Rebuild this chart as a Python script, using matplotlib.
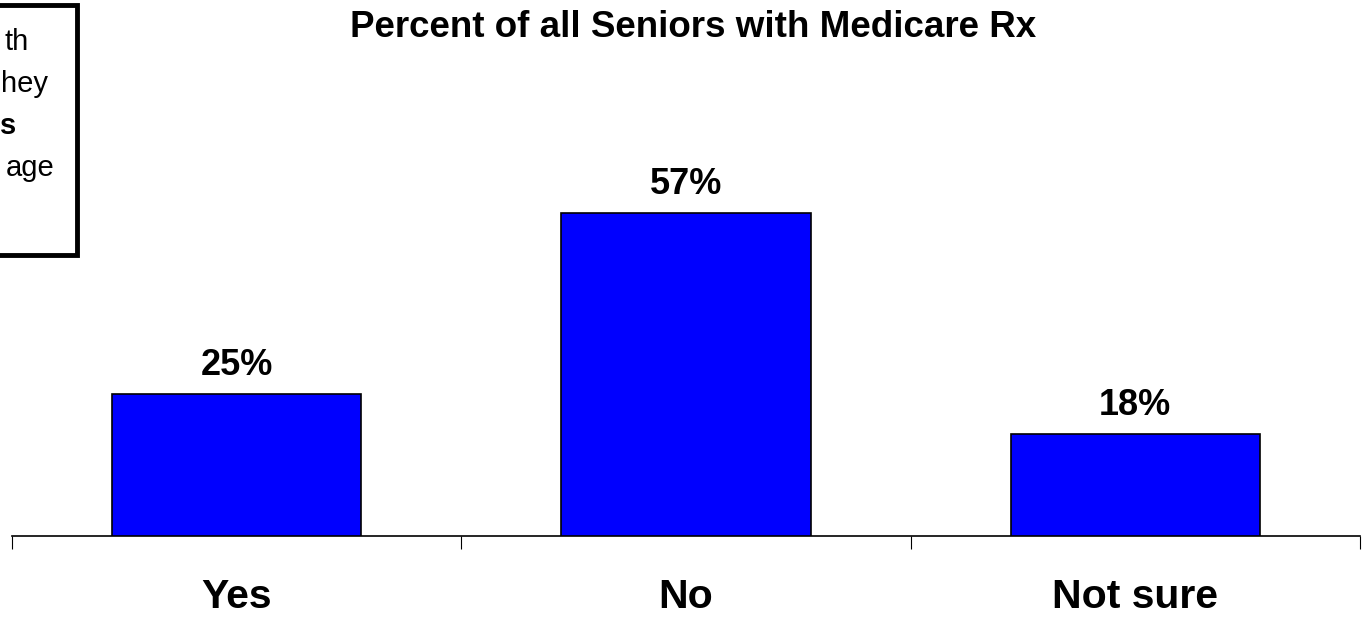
import matplotlib.pyplot as plt
from matplotlib.patches import Rectangle

categories = ["Yes", "No", "Not sure"]
values = [25, 57, 18]
value_labels = ["25%", "57%", "18%"]
note_lines = ["th", "hey", "s", "age"]

plt.rcParams['font.family'] = ['Liberation Sans', 'DejaVu Sans']

W, H = 1363, 620
fig = plt.figure(figsize=(W / 100, H / 100), dpi=100)
# axes: baseline at y=536 px, 5.667 px per percent
ax = fig.add_axes([12 / W, (H - 536) / H, 1348 / W, 80 * 5.667 / H])

x = range(len(categories))
ax.bar(x, values, width=0.555, color='#0000ff', edgecolor='black', linewidth=1.2, zorder=3)
for xi, v, lab in zip(x, values, value_labels):
    ax.annotate(lab, (xi, v), xytext=(0, 14), textcoords='offset points',
                ha='center', va='baseline', fontsize=26, fontweight='bold')

ax.set_xlim(-0.5, 2.5)
ax.set_ylim(0, 80)
ax.set_xticks([-0.5, 0.5, 1.5, 2.5])
ax.set_xticklabels([])
ax.tick_params(axis='x', direction='out', length=9.5, width=0.8, color='black')
ax.set_yticks([])
for s in ['top', 'right', 'left']:
    ax.spines[s].set_visible(False)
ax.spines['bottom'].set_linewidth(1.2)
for xi, c in zip(x, categories):
    ax.annotate(c, (xi, 0), xytext=(0, -52), textcoords='offset points',
                ha='center', va='baseline', fontsize=29.5, fontweight='bold')

fig.text(693 / W, 1 - 37 / H, "Percent of all Seniors with Medicare Rx",
         ha='center', va='baseline', fontsize=26.5, fontweight='bold')

# note box, cut off at left edge
fig.patches.append(Rectangle((-20 / W, 1 - 255 / H), 97 / W, 250 / H,
                             transform=fig.transFigure, fill=False,
                             edgecolor='black', linewidth=3.5))
ys = [50, 92, 134, 176]
rights = [29, 48, 16, 55]
for line, y, r in zip(note_lines, ys, rights):
    fig.text(r / W, 1 - y / H, line, ha='right', va='baseline', fontsize=21,
             fontweight='bold' if line == 's' else 'normal')

fig.savefig('out.png', dpi=100)
